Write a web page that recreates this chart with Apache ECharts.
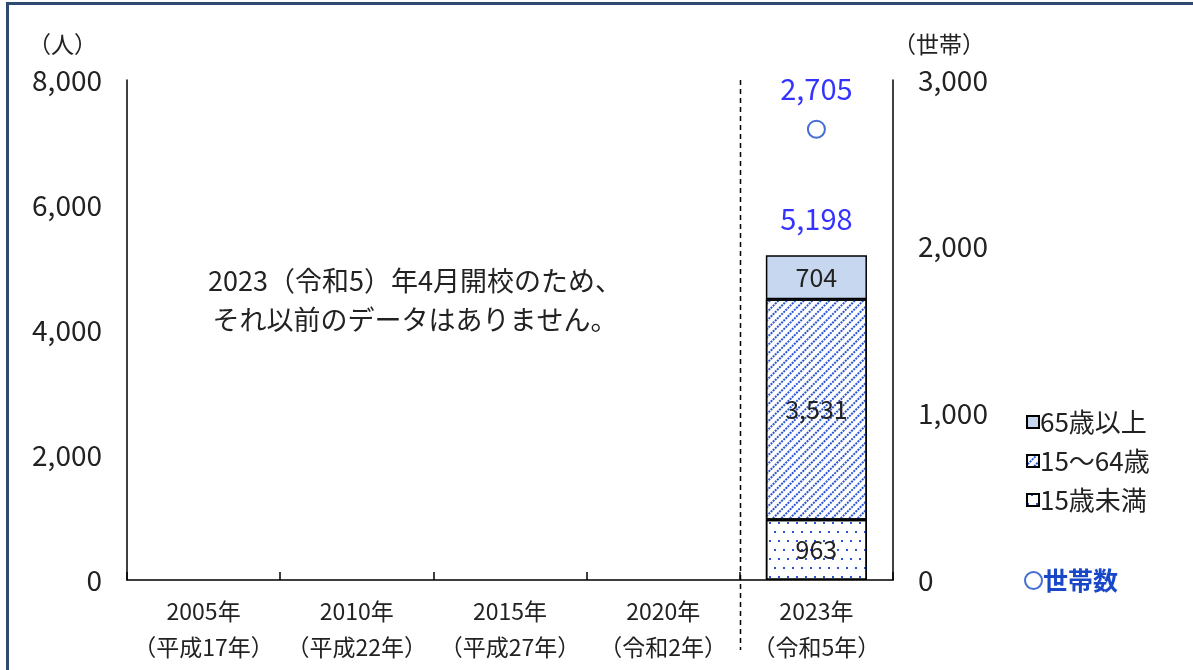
<!DOCTYPE html>
<html>
<head>
  <meta charset="utf-8">
  <title>chart</title>
  <style>
    html, body { margin: 0; padding: 0; background: #fff; }
    #main { width: 1193px; height: 670px; }
  </style>
</head>
<body>
<div id="main"></div>
<script src="https://cdn.jsdelivr.net/npm/echarts@6/dist/echarts.min.js"></script>
<script>
  // データ
  var years = ['2005年\n（平成17年）', '2010年\n（平成22年）', '2015年\n（平成27年）', '2020年\n（令和2年）', '2023年\n（令和5年）'];
  var under15 = [null, null, null, null, 963];
  var age15to64 = [null, null, null, null, 3531];
  var over65 = [null, null, null, null, 704];
  var households = [null, null, null, null, 2705];
  var leftTicks = [0, 2000, 4000, 6000, 8000];
  var rightTicks = [0, 1000, 2000, 3000];

  var totals = under15.map(function (v, i) {
    return v == null ? null : v + age15to64[i] + over65[i];
  });

  var font = '"Noto Sans CJK JP", "Noto Sans", sans-serif';
  var fmt = function (v) { return String(v).replace(/\B(?=(\d{3})+(?!\d))/g, ','); };

  var myChart = echarts.init(document.getElementById('main'));

  var barLabel = {
    show: true,
    position: 'inside',
    color: '#222',
    fontSize: 25,
    fontFamily: font,
    formatter: function (p) { return fmt(p.value); }
  };

  myChart.setOption({
    animation: false,
    textStyle: { fontFamily: font },
    grid: { left: 127, right: 300, top: 80, bottom: 90 },
    legend: [{
      data: ['65歳以上', '15～64歳', '15歳未満'],
      orient: 'vertical',
      left: 1021,
      top: 404,
      icon: 'rect',
      itemWidth: 12,
      itemHeight: 12,
      itemGap: 13,
      textStyle: { fontSize: 26, color: '#222', padding: [0, 0, 0, -4] }
    }, {
      data: ['世帯数'],
      left: 1019,
      top: 563,
      itemWidth: 17,
      itemHeight: 17,
      textStyle: { fontSize: 25, color: '#1848C8', fontWeight: 'bold', padding: [0, 0, 0, -4] }
    }],
    xAxis: {
      type: 'category',
      data: years,
      axisLine: { show: true, lineStyle: { color: '#000', width: 1.5 } },
      axisTick: { show: true, inside: true, length: 8, interval: 0, lineStyle: { color: '#000', width: 1.5 } },
      axisLabel: { fontSize: 23, color: '#222', lineHeight: 36, margin: 13, interval: 0 }
    },
    yAxis: [{
      type: 'value',
      min: leftTicks[0],
      max: leftTicks[leftTicks.length - 1],
      interval: leftTicks[1] - leftTicks[0],
      name: '（人）',
      nameLocation: 'end',
      nameGap: 24,
      nameTextStyle: { fontSize: 23, color: '#222', align: 'right', padding: [0, 30, 0, 0] },
      axisLine: { show: true, lineStyle: { color: '#000', width: 1.5 } },
      axisTick: { show: false },
      splitLine: { show: false },
      axisLabel: { fontSize: 28, color: '#222', margin: 25, formatter: fmt }
    }, {
      type: 'value',
      min: rightTicks[0],
      max: rightTicks[rightTicks.length - 1],
      interval: rightTicks[1] - rightTicks[0],
      name: '（世帯）',
      nameLocation: 'end',
      nameGap: 24,
      nameTextStyle: { fontSize: 23, color: '#222', align: 'left', padding: [0, 0, 0, 0] },
      axisLine: { show: true, lineStyle: { color: '#000', width: 1.5 } },
      axisTick: { show: false },
      splitLine: { show: false },
      axisLabel: { fontSize: 28, color: '#222', margin: 25, formatter: fmt }
    }],
    series: [{
      name: '15歳未満',
      type: 'bar',
      stack: 'pop',
      barWidth: '66%',
      data: under15,
      label: barLabel,
      itemStyle: {
        color: '#fff',
        borderColor: '#000',
        borderWidth: 1.5,
        decal: {
          symbol: 'rect',
          symbolSize: 1,
          color: '#2a55d0',
          dashArrayX: [[2, 7], [0, 4, 2, 3]],
          dashArrayY: [2, 7],
          rotation: 0
        }
      }
    }, {
      name: '15～64歳',
      type: 'bar',
      stack: 'pop',
      data: age15to64,
      label: barLabel,
      itemStyle: {
        color: '#fff',
        borderColor: '#000',
        borderWidth: 1.5,
        decal: {
          symbol: 'rect',
          symbolSize: 1,
          color: '#2a55d0',
          dashArrayX: [2, 1],
          dashArrayY: [1.5, 4],
          rotation: -Math.PI / 4
        }
      }
    }, {
      name: '65歳以上',
      type: 'bar',
      stack: 'pop',
      data: over65,
      label: barLabel,
      itemStyle: { color: '#C6D7EF', borderColor: '#000', borderWidth: 1.5 }
    }, {
      name: '合計',
      type: 'scatter',
      data: totals,
      symbolSize: 0,
      silent: true,
      label: {
        show: true,
        position: 'top',
        distance: 22,
        color: '#0000FF',
        fontSize: 29,
        formatter: function (p) { return fmt(p.value); }
      }
    }, {
      name: '世帯数',
      type: 'scatter',
      yAxisIndex: 1,
      data: households,
      symbol: 'emptyCircle',
      symbolSize: 17,
      itemStyle: { color: '#1848C8', borderWidth: 2 },
      label: {
        show: true,
        position: 'top',
        distance: 16,
        color: '#0000FF',
        fontSize: 29,
        formatter: function (p) { return fmt(p.value); }
      }
    }]
  });

  // 区切りの点線と注記、枠
  var x3 = myChart.convertToPixel({ xAxisIndex: 0 }, years[3]);
  var x4 = myChart.convertToPixel({ xAxisIndex: 0 }, years[4]);
  var sepX = Math.round((x3 + x4) / 2) + 0.5;
  var topY = myChart.convertToPixel({ yAxisIndex: 0 }, leftTicks[leftTicks.length - 1]);

  myChart.setOption({
    graphic: [{
      type: 'line',
      shape: { x1: sepX, y1: topY, x2: sepX, y2: 650 },
      style: { stroke: '#000', lineWidth: 1.5, lineDash: [5, 4] }
    }, {
      type: 'text',
      x: 415,
      y: 261,
      style: {
        text: '2023（令和5）年4月開校のため、\nそれ以前のデータはありません。',
        fontSize: 27,
        lineHeight: 39,
        fill: '#222',
        align: 'center',
        fontFamily: font
      }
    }, {
      type: 'rect',
      shape: { x: 6, y: 2, width: 1187, height: 3 },
      style: { fill: '#2E4A6E' }
    }, {
      type: 'rect',
      shape: { x: 6, y: 2, width: 3, height: 668 },
      style: { fill: '#2E4A6E' }
    }]
  });
</script>
</body>
</html>
